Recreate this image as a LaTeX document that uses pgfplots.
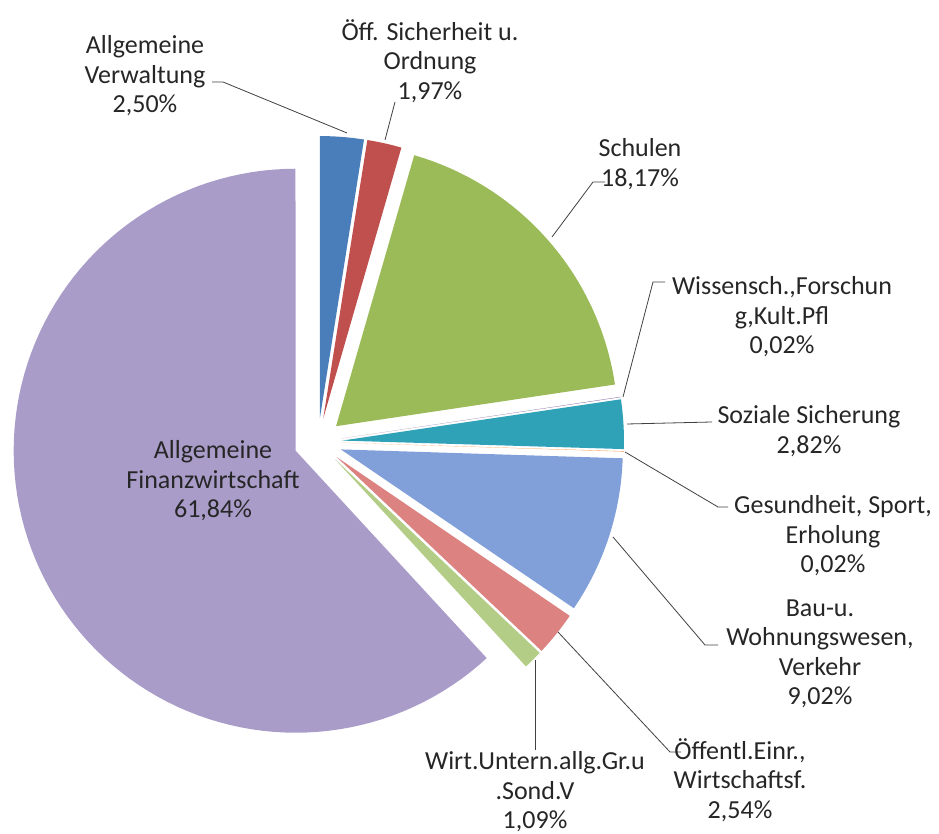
\documentclass[border=0pt]{standalone}
\usepackage{pgfplots}
\pgfplotsset{compat=1.18}
\usepackage{fontspec}
\setmainfont{Carlito}
\definecolor{cVerw}{HTML}{4A7EBB}
\definecolor{cSich}{HTML}{C0504D}
\definecolor{cSchul}{HTML}{9BBB59}
\definecolor{cWiss}{HTML}{8064A2}
\definecolor{cSoz}{HTML}{2FA2B8}
\definecolor{cGes}{HTML}{F79646}
\definecolor{cBau}{HTML}{819FD8}
\definecolor{cOeff}{HTML}{DC8382}
\definecolor{cWirt}{HTML}{B3CC86}
\definecolor{cFin}{HTML}{A99CC9}
\tikzset{lbl/.style={font=\fontsize{26}{29.5}\selectfont, align=center, text=black!85, inner sep=0pt}}
% slice: #1 value (percent), #2 colour; \cum holds the running start
\def\cum{0}
\newcommand\slice[2]{%
  \pgfmathsetmacro\sA{90-3.6*(\cum+#1)}%
  \pgfmathsetmacro\sB{90-3.6*\cum}%
  \pgfmathsetmacro\sM{90-3.6*(\cum+#1/2)}%
  \pgfmathsetmacro\cx{318+24*cos(\sM)}%
  \pgfmathsetmacro\cy{392+24*sin(\sM)}%
  \edef\doslice{\noexpand\addplot[fill=#2,draw=none,domain=\sA:\sB,samples=100]
    ({\cx+282*cos(x)},{\cy+282*sin(x)}) -- (axis cs:\cx,\cy) -- cycle;}%
  \doslice
  \pgfmathsetmacro\cum{\cum+#1}%
  \xdef\cum{\cum}%
}
\begin{document}
\begin{tikzpicture}
\begin{axis}[
  width=939pt, height=834pt, scale only axis,
  xmin=0, xmax=939, ymin=0, ymax=834,
  hide axis, clip=false,
]
\slice{2.50}{cVerw}
\slice{1.97}{cSich}
\slice{18.17}{cSchul}
\slice{0.02}{cWiss}
\slice{2.82}{cSoz}
\slice{0.02}{cGes}
\slice{9.02}{cBau}
\slice{2.54}{cOeff}
\slice{1.09}{cWirt}
\slice{61.84}{cFin}
% leader lines
\addplot[black!75, line width=0.8pt] coordinates {(347,701) (223,752) (212,752)};
\addplot[black!75, line width=0.8pt] coordinates {(385,694) (395,732)};
\addplot[black!75, line width=0.8pt] coordinates {(552,597) (593,652) (605,652)};
\addplot[black!75, line width=0.8pt] coordinates {(623,437) (653,552) (665,552)};
\addplot[black!75, line width=0.8pt] coordinates {(627,410) (712,412)};
\addplot[black!75, line width=0.8pt] coordinates {(625,382) (718,327) (728,327)};
\addplot[black!75, line width=0.8pt] coordinates {(613,297) (705,189) (718,189)};
\addplot[black!75, line width=0.8pt] coordinates {(558,202) (670,82) (681,82)};
\addplot[black!75, line width=0.8pt] coordinates {(535,174) (535,84)};
% labels
\node[lbl] at (axis cs:145,758) {Allgemeine\\Verwaltung\\2,50\%};
\node[lbl] at (axis cs:430,773) {Öff. Sicherheit u.\\Ordnung\\1,97\%};
\node[lbl] at (axis cs:640,670) {Schulen\\18,17\%};
\node[lbl] at (axis cs:782,517) {Wissensch.,Forschun\\g,Kult.Pfl\\0,02\%};
\node[lbl] at (axis cs:809,403) {Soziale Sicherung\\2,82\%};
\node[lbl] at (axis cs:833,298) {Gesundheit, Sport,\\Erholung\\0,02\%};
\node[lbl] at (axis cs:820,180) {Bau-u.\\Wohnungswesen,\\Verkehr\\9,02\%};
\node[lbl] at (axis cs:740,54) {Öffentl.Einr.,\\Wirtschaftsf.\\2,54\%};
\node[lbl] at (axis cs:535,42) {Wirt.Untern.allg.Gr.u\\.Sond.V\\1,09\%};
\node[lbl] at (axis cs:213,353) {Allgemeine\\Finanzwirtschaft\\61,84\%};
\end{axis}
\pgfresetboundingbox
\useasboundingbox (0,0) rectangle (939pt,834pt);
\end{tikzpicture}
\end{document}
